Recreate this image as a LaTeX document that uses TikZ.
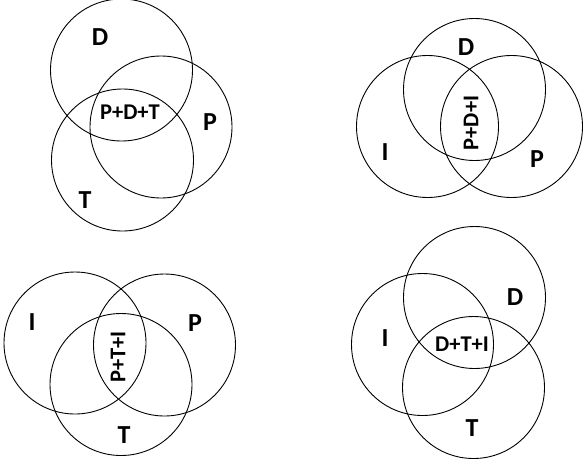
\documentclass[tikz,border=0pt]{standalone}
\usepackage{fontspec}
\setmainfont{Carlito}

\begin{document}
\begin{tikzpicture}[
    x=1pt, y=-1pt,
    set/.style={draw, circle, minimum size=142pt, inner sep=0pt, line width=0.9pt},
    letter/.style={inner sep=0pt, font=\fontsize{26}{30}\selectfont\bfseries},
    overlap/.style={inner sep=0pt, font=\fontsize{22.5}{26}\selectfont\bfseries}
]
  \useasboundingbox (0,0) rectangle (588,464);

  % Top left: P, D, T
  \node (dA) [set] at (121.5,70) {};
  \node (pA) [set] at (161,127) {};
  \node (tA) [set] at (122.5,160) {};
  \node (dAl) [letter] at (100,37) {D};
  \node (pAl) [letter] at (210,122) {P};
  \node (tAl) [letter] at (85,200) {T};
  \node (pdt) [overlap] at (130,112) {P+D+T};

  % Top right: P, D, I
  \node (dB) [set] at (474.5,89.5) {};
  \node (iB) [set] at (427.5,126.5) {};
  \node (pB) [set] at (511.5,126.5) {};
  \node (dBl) [letter] at (466,47) {D};
  \node (iBl) [letter] at (385,152) {I};
  \node (pBl) [letter] at (537,159) {P};
  \node (pdi) [overlap, rotate=90] at (471,123) {P+D+I};

  % Bottom left: P, T, I
  \node (iC) [set] at (75,343) {};
  \node (pC) [set] at (164.5,345) {};
  \node (tC) [set] at (121,384.5) {};
  \node (iCl) [letter] at (32,322) {I};
  \node (pCl) [letter] at (195,323) {P};
  \node (tCl) [letter] at (124,435) {T};
  \node (pti) [overlap, rotate=90] at (118,357) {P+T+I};

  % Bottom right: D, T, I
  \node (dD) [set] at (474.5,297.5) {};
  \node (iD) [set] at (422.5,344.5) {};
  \node (tD) [set] at (473.5,387.5) {};
  \node (dDl) [letter] at (515,297) {D};
  \node (iDl) [letter] at (385,338) {I};
  \node (tDl) [letter] at (472,428) {T};
  \node (dti) [overlap] at (462,344) {D+T+I};
\end{tikzpicture}
\end{document}
